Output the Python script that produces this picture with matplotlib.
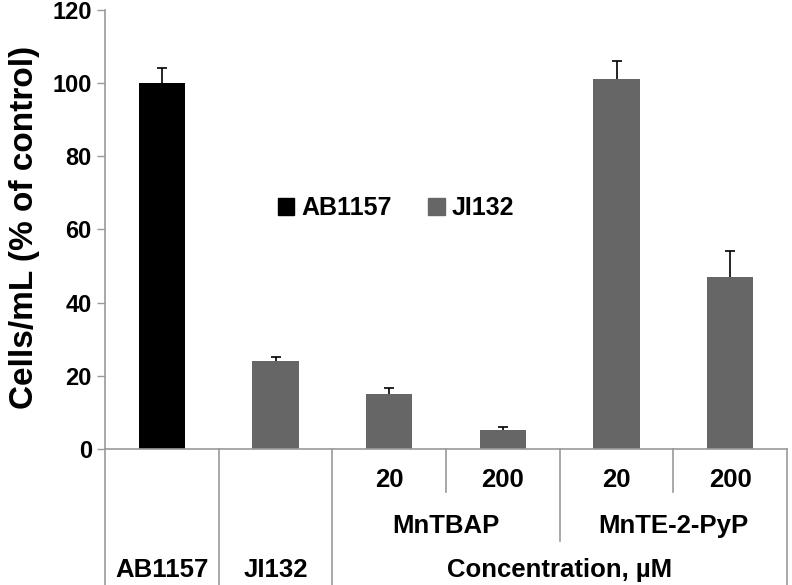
import numpy as np
import matplotlib.pyplot as plt
from matplotlib.patches import Patch
import matplotlib.transforms as mtransforms

plt.rcParams['font.family'] = ['Liberation Sans', 'DejaVu Sans']
plt.rcParams['font.weight'] = 'bold'

# data
groups = ['AB1157', 'JI132', 'MnTBAP 20', 'MnTBAP 200', 'MnTE-2-PyP 20', 'MnTE-2-PyP 200']
values = [100, 24, 15, 5.3, 101, 47]
errors = [4, 1.2, 1.8, 0.6, 5, 7]
strain = ['AB1157', 'JI132', 'JI132', 'JI132', 'JI132', 'JI132']
conc_labels = ['20', '200', '20', '200']
drug_labels = ['MnTBAP', 'MnTE-2-PyP']
colors = {'AB1157': '#000000', 'JI132': '#666666'}
gray = '#9a9a9a'

fig = plt.figure(figsize=(7.92, 5.85), dpi=100)
ax = fig.add_axes([0.1326, 0.2325, 0.9937 - 0.1326, 0.983 - 0.2325])

x = np.arange(len(groups))
ax.bar(x, values, width=0.405, color=[colors[s] for s in strain], zorder=2)
eb = ax.errorbar(x, values, yerr=[np.zeros(len(values)), errors], fmt='none',
                 ecolor='black', elinewidth=1.2, capsize=3.5, capthick=1.2, zorder=1)
eb[1][0].set_visible(False)  # no lower caps

ax.set_xlim(-0.5, 5.5)
ax.set_ylim(0, 120)
ax.set_yticks(np.arange(0, 121, 20))
ax.set_xticks([])
ax.tick_params(axis='y', labelsize=17, length=6, color=gray, width=1)
for lab in ax.get_yticklabels():
    lab.set_fontweight('bold')
ax.set_ylabel('Cells/mL (% of control)', fontsize=24, fontweight='bold')
ax.yaxis.set_label_coords(-0.095, 0.505)
for s in ['top', 'right']:
    ax.spines[s].set_visible(False)
for s in ['left', 'bottom']:
    ax.spines[s].set_color(gray)
    ax.spines[s].set_linewidth(1.2)

# legend
handles = [Patch(color=colors['AB1157'], label='AB1157'),
           Patch(color=colors['JI132'], label='JI132')]
ax.legend(handles=handles, loc='center', bbox_to_anchor=(0.427, 0.549), ncol=2,
          frameon=False, handlelength=0.65, handleheight=0.65, handletextpad=0.3,
          columnspacing=1.45, prop={'size': 18, 'weight': 'bold'})

# hierarchical category axis below
tr = mtransforms.blended_transform_factory(ax.transData, fig.transFigure)
y0 = 1 - 449 / 585
full_lines = [-0.5, 0.5, 1.5, 5.5]
for xv in full_lines:
    ax.plot([xv, xv], [y0, 0], transform=tr, color=gray, lw=1.2, clip_on=False)
for xv in [2.5, 4.5]:
    ax.plot([xv, xv], [y0, 1 - 492 / 585], transform=tr, color=gray, lw=1.2, clip_on=False)
ax.plot([3.5, 3.5], [y0, 1 - 541 / 585], transform=tr, color=gray, lw=1.2, clip_on=False)

row1 = 1 - 480 / 585
row2 = 1 - 526 / 585
row3 = 1 - 570 / 585
fs = 18.5
for xv, lab in zip(x[2:], conc_labels):
    ax.text(xv, row1, lab, transform=tr, ha='center', va='center', fontsize=fs, fontweight='bold')
for xv, lab in zip([2.5, 4.5], drug_labels):
    ax.text(xv, row2, lab, transform=tr, ha='center', va='center', fontsize=fs, fontweight='bold')
ax.text(0, row3, 'AB1157', transform=tr, ha='center', va='center', fontsize=fs, fontweight='bold')
ax.text(1, row3, 'JI132', transform=tr, ha='center', va='center', fontsize=fs, fontweight='bold')
ax.text(3.5, row3, 'Concentration, µM', transform=tr, ha='center', va='center', fontsize=fs, fontweight='bold')

fig.savefig('out.png', dpi=100)
